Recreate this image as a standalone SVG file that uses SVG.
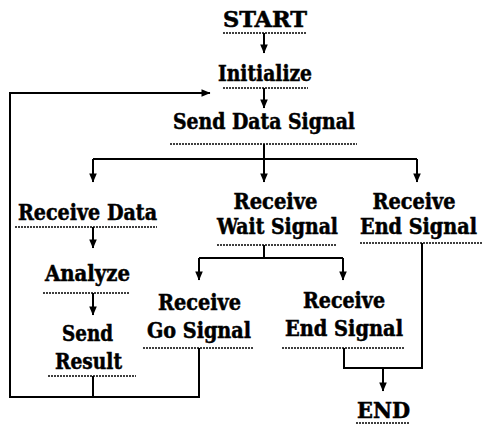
<svg xmlns="http://www.w3.org/2000/svg" width="484" height="426" viewBox="0 0 484 426">
  <style>
    .t { font-family: 'DejaVu Serif', serif; font-stretch: condensed; font-weight: 700; font-size: 22px; fill: #000; stroke: #000; stroke-width: 0.5; text-anchor: middle; }
    .u { stroke: #000; stroke-width: 1.6; stroke-dasharray: 2 1; fill: none; }
    .c { stroke: #000; stroke-width: 2; fill: none; }
  </style>
  <defs>
    <marker id="arr" markerUnits="userSpaceOnUse" markerWidth="10" markerHeight="11" viewBox="0 0 10 10" refX="9" refY="5" orient="auto">
      <path d="M0.5,1.2 L9.5,5 L0.5,8.8 Z" fill="#000"/>
    </marker>
  </defs>
  <rect width="484" height="426" fill="#fff"/>

  <g id="connectors">
    <path class="c" d="M264,33 V53" marker-end="url(#arr)"/>
    <path class="c" d="M264,88 V108" marker-end="url(#arr)"/>
    <!-- loop back to Initialize -->
    <path class="c" d="M199,348 V397 H10 V93 H210" marker-end="url(#arr)"/>
    <path class="c" d="M93,376 V397"/>
    <!-- three-way split after sending data -->
    <path class="c" d="M264,144 V159"/>
    <path class="c" d="M93,159 H417"/>
    <path class="c" d="M93,159 V182" marker-end="url(#arr)"/>
    <path class="c" d="M264,159 V182" marker-end="url(#arr)"/>
    <path class="c" d="M417,159 V182" marker-end="url(#arr)"/>
    <!-- data path -->
    <path class="c" d="M93,227 V248" marker-end="url(#arr)"/>
    <path class="c" d="M93,293 V315" marker-end="url(#arr)"/>
    <!-- wait split -->
    <path class="c" d="M264,245 V258"/>
    <path class="c" d="M199,258 H343"/>
    <path class="c" d="M199,258 V280" marker-end="url(#arr)"/>
    <path class="c" d="M343,258 V280" marker-end="url(#arr)"/>
    <!-- end signals merge -->
    <path class="c" d="M422,243 V368 H344 V348"/>
    <path class="c" d="M383,368 V391" marker-end="url(#arr)"/>
  </g>

  <g id="start">
    <text class="t" x="265" y="27" textLength="84" lengthAdjust="spacingAndGlyphs">START</text>
    <line class="u" x1="223" y1="33" x2="306" y2="33"/>
  </g>
  <g id="initialize">
    <text class="t" x="265" y="81" textLength="94" lengthAdjust="spacingAndGlyphs">Initialize</text>
    <line class="u" x1="223" y1="88" x2="308" y2="88"/>
  </g>
  <g id="send-data-signal">
    <text class="t" x="264" y="129" textLength="182" lengthAdjust="spacingAndGlyphs">Send Data Signal</text>
    <line class="u" x1="170" y1="144" x2="357" y2="144"/>
  </g>
  <g id="receive-data">
    <text class="t" x="87.5" y="220" textLength="139" lengthAdjust="spacingAndGlyphs">Receive Data</text>
    <line class="u" x1="15" y1="227" x2="157" y2="227"/>
  </g>
  <g id="analyze">
    <text class="t" x="87.5" y="281" textLength="85" lengthAdjust="spacingAndGlyphs">Analyze</text>
    <line class="u" x1="43" y1="293" x2="130" y2="293"/>
  </g>
  <g id="send-result">
    <text class="t" x="87.5" y="341" textLength="51" lengthAdjust="spacingAndGlyphs">Send</text>
    <text class="t" x="88.5" y="369" textLength="67" lengthAdjust="spacingAndGlyphs">Result</text>
    <line class="u" x1="48" y1="376" x2="136" y2="376"/>
  </g>
  <g id="receive-wait-signal">
    <text class="t" x="275.5" y="209" textLength="84" lengthAdjust="spacingAndGlyphs">Receive</text>
    <text class="t" x="277.5" y="234" textLength="121" lengthAdjust="spacingAndGlyphs">Wait Signal</text>
    <line class="u" x1="217" y1="245" x2="337" y2="245"/>
  </g>
  <g id="receive-end-signal-1">
    <text class="t" x="414" y="209" textLength="83" lengthAdjust="spacingAndGlyphs">Receive</text>
    <text class="t" x="418.5" y="234" textLength="117" lengthAdjust="spacingAndGlyphs">End Signal</text>
    <line class="u" x1="360" y1="243" x2="482" y2="243"/>
  </g>
  <g id="receive-go-signal">
    <text class="t" x="199.5" y="310" textLength="83" lengthAdjust="spacingAndGlyphs">Receive</text>
    <text class="t" x="199" y="338" textLength="104" lengthAdjust="spacingAndGlyphs">Go Signal</text>
    <line class="u" x1="143" y1="348" x2="253" y2="348"/>
  </g>
  <g id="receive-end-signal-2">
    <text class="t" x="344" y="308" textLength="82" lengthAdjust="spacingAndGlyphs">Receive</text>
    <text class="t" x="344" y="336" textLength="118" lengthAdjust="spacingAndGlyphs">End Signal</text>
    <line class="u" x1="282" y1="348" x2="404" y2="348"/>
  </g>
  <g id="end">
    <text class="t" x="383.5" y="418" textLength="53" lengthAdjust="spacingAndGlyphs">END</text>
    <line class="u" x1="356" y1="423" x2="410" y2="423"/>
  </g>
</svg>
